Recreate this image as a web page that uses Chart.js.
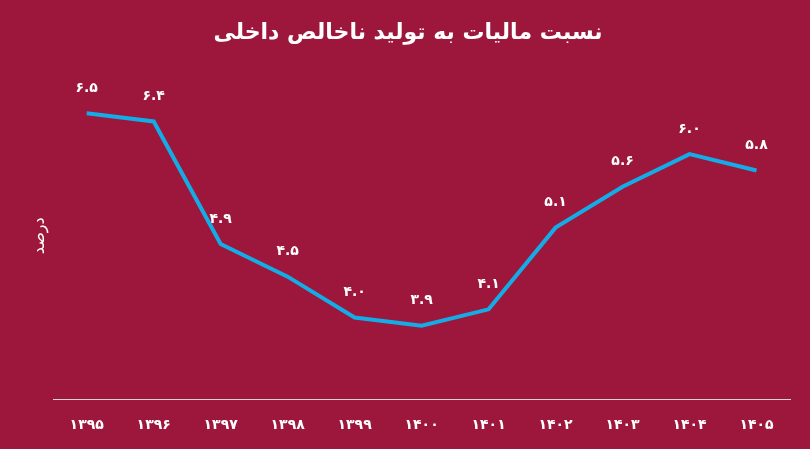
<!DOCTYPE html>
<html><head><meta charset="utf-8">
<script src="https://cdn.jsdelivr.net/npm/chart.js@4/dist/chart.umd.min.js"></script>
<style>
html,body{margin:0;padding:0;background:#9d173c;}
#wrap{width:810px;height:449px;}
</style></head>
<body><div id="wrap"><canvas id="c" width="810" height="449"></canvas></div>
<script>
const categories = ['۱۳۹۵','۱۳۹۶','۱۳۹۷','۱۳۹۸','۱۳۹۹','۱۴۰۰','۱۴۰۱','۱۴۰۲','۱۴۰۳','۱۴۰۴','۱۴۰۵'];
const values = [6.5, 6.4, 4.9, 4.5, 4.0, 3.9, 4.1, 5.1, 5.6, 6.0, 5.8];
const titleText = 'نسبت مالیات به تولید ناخالص داخلی';
const yTitle = 'درصد';

const faDigits = '۰۱۲۳۴۵۶۷۸۹';
function toFa(s){ return String(s).replace(/[0-9]/g, d => faDigits[+d]); }

const labelPlugin = {
  id: 'pointLabels',
  afterDatasetsDraw(chart){
    const ctx = chart.ctx;
    const meta = chart.getDatasetMeta(0);
    ctx.save();
    ctx.fillStyle = '#ffffff';
    ctx.font = 'bold 14px "DejaVu Sans"';
    ctx.textAlign = 'center';
    ctx.textBaseline = 'middle';
    meta.data.forEach((pt, i) => {
      ctx.fillText(toFa(values[i].toFixed(1)), pt.x, pt.y - 25);
    });
    ctx.restore();
  }
};

new Chart(document.getElementById('c'), {
  type: 'line',
  data: {
    labels: categories,
    datasets: [{
      data: values,
      borderColor: '#14ace6',
      borderWidth: 4,
      pointRadius: 0,
      tension: 0,
      fill: false
    }]
  },
  options: {
    responsive: false,
    animation: false,
    layout: { padding: { left: 26, right: 20, top: 0, bottom: -3 } },
    plugins: {
      legend: { display: false },
      tooltip: { enabled: false },
      title: {
        display: true,
        text: titleText,
        color: '#ffffff',
        font: { family: '"DejaVu Sans"', size: 22, weight: 'bold' },
        padding: { top: 20, bottom: 26 }
      }
    },
    scales: {
      x: {
        offset: true,
        grid: { display: false, drawTicks: false },
        border: { display: true, color: '#e9d3da', width: 1 },
        ticks: { color: '#ffffff', padding: 18, font: { family: '"DejaVu Sans"', size: 14, weight: 'bold' } }
      },
      y: {
        min: 3, max: 7,
        grid: { display: false, drawTicks: false },
        border: { display: false },
        ticks: { display: false },
        title: { display: true, text: yTitle, color: '#ffffff', font: { family: '"DejaVu Sans"', size: 16 }, padding: { top: 4, bottom: 4 } }
      }
    }
  },
  plugins: [labelPlugin]
});
</script></body></html>
